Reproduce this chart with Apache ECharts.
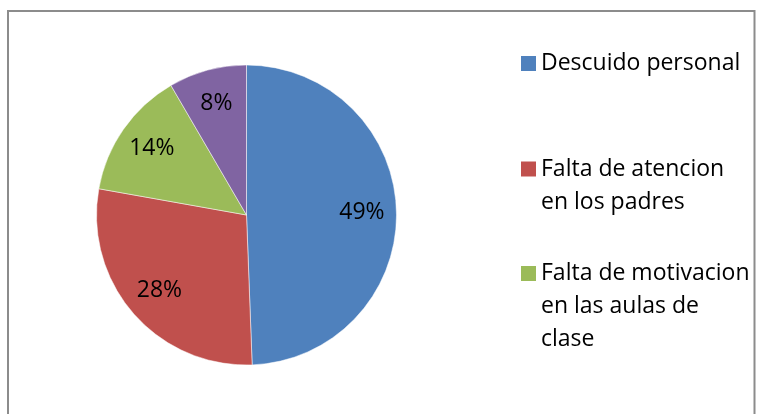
<!DOCTYPE html>
<html>
<head>
<meta charset="utf-8">
<title>Pie</title>
<script src="https://cdn.jsdelivr.net/npm/echarts@6/dist/echarts.min.js"></script>
<style>html,body{margin:0;padding:0;background:#fff}</style>
</head>
<body>
<div id="main" style="width:758px;height:414px;"></div>
<script type="text/javascript">
    // data
    var categories = ['Descuido personal', 'Falta de atencion en los padres', 'Falta de motivacion en las aulas de clase', 'Otros'];
    var values = [49.4, 28.4, 13.8, 8.4];
    var legendLines = [
        ['Descuido personal'],
        ['Falta de atencion', 'en los padres'],
        ['Falta de motivacion', 'en las aulas de', 'clase']
    ];
    var colors = ['#4F81BD', '#C0504D', '#9BBB59', '#8064A2'];

    var lineH = 33;
    var markerY = [63.5, 169, 273.5]; // centre of each legend marker

    var pieData = categories.map(function (name, i) {
        return { name: name, value: values[i] };
    });

    // one legend per entry; blank lines on top keep the marker beside the first line
    var legends = legendLines.map(function (lines, i) {
        var n = lines.length;
        var text = new Array(n).join('\n') + lines.join('\n');
        return {
            orient: 'vertical',
            left: 521,
            top: markerY[i] - (2 * n - 1) * lineH / 2,
            padding: 0,
            icon: 'rect',
            itemWidth: 15,
            itemHeight: 15,
            itemStyle: { borderWidth: 0 },
            selectedMode: false,
            formatter: function () { return text; },
            data: [categories[i]],
            textStyle: { fontFamily: 'Open Sans', fontSize: 23, color: '#000', lineHeight: lineH }
        };
    });

    var myChart = echarts.init(document.getElementById('main'));
    var option = {
        animation: false,
        backgroundColor: '#fff',
        color: colors,
        legend: legends,
        graphic: [{
            type: 'rect',
            silent: true,
            z: -1,
            shape: { x: 8, y: 11, width: 746.5, height: 430 },
            style: { fill: 'none', stroke: '#8c8c8c', lineWidth: 2 }
        }],
        series: [{
            type: 'pie',
            center: [246.5, 215],
            radius: 150,
            startAngle: 90,
            clockwise: true,
            silent: true,
            emphasis: { disabled: true },
            label: { show: false },
            labelLine: { show: false },
            itemStyle: { borderColor: '#fff', borderWidth: 0.5 },
            data: pieData
        }, {
            // label ring: places the percentages at about 3/4 of the radius
            type: 'pie',
            center: [246.5, 215],
            radius: [75, 150],
            startAngle: 90,
            clockwise: true,
            silent: true,
            emphasis: { disabled: true },
            avoidLabelOverlap: false,
            itemStyle: { color: 'transparent', borderWidth: 0 },
            labelLine: { show: false },
            label: {
                show: true,
                position: 'inside',
                formatter: function (p) { return Math.round(p.percent) + '%'; },
                fontFamily: 'Open Sans',
                fontSize: 23,
                color: '#000',
                textBorderWidth: 0
            },
            data: pieData
        }]
    };
    myChart.setOption(option);
</script>
</body>
</html>
